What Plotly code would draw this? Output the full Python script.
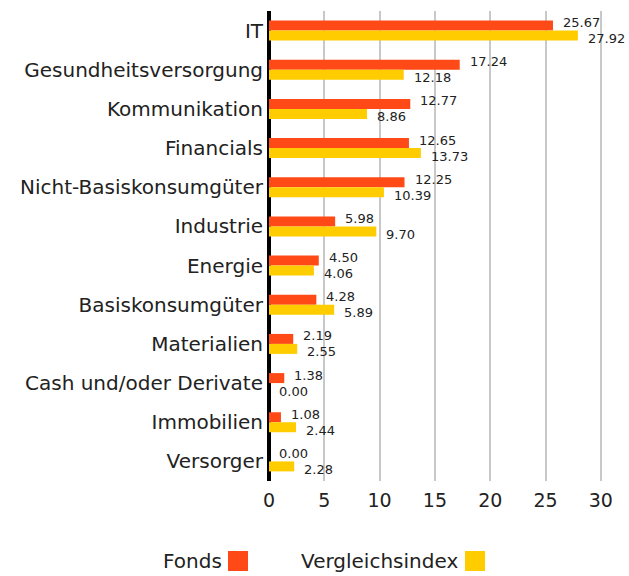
import plotly.graph_objects as go

categories = ["IT", "Gesundheitsversorgung", "Kommunikation", "Financials",
              "Nicht-Basiskonsumgüter", "Industrie", "Energie", "Basiskonsumgüter",
              "Materialien", "Cash und/oder Derivate", "Immobilien", "Versorger"]
fonds = [25.67, 17.24, 12.77, 12.65, 12.25, 5.98, 4.50, 4.28, 2.19, 1.38, 1.08, 0.00]
index_vals = [27.92, 12.18, 8.86, 13.73, 10.39, 9.70, 4.06, 5.89, 2.55, 0.00, 2.44, 2.28]
x_ticks = [0, 5, 10, 15, 20, 25, 30]
series_names = ["Fonds", "Vergleichsindex"]

C_FONDS = "#FF4A17"
C_INDEX = "#FFCC00"
FONT = "DejaVu Sans"
TXT = "#222222"

W, H = 629, 576
L, R, T, B = 269, 6, 11, 95
pw, ph = W - L - R, H - T - B

def px_x(p):
    return (p - L) / pw

def px_y(p):
    return 1 - (p - T) / ph

pos = list(range(len(categories)))
bargap = 0.49
half = (1 - bargap) / 4

fig = go.Figure()
fig.add_bar(y=pos, x=fonds, orientation="h", name=series_names[0],
            marker=dict(color=C_FONDS, line=dict(width=0)), showlegend=False)
fig.add_bar(y=pos, x=index_vals, orientation="h", name=series_names[1],
            marker=dict(color=C_INDEX, line=dict(width=0)), showlegend=False)

ann = []
for i, (a, b) in enumerate(zip(fonds, index_vals)):
    ann.append(dict(x=a, y=i - half, xref="x", yref="y", text=f"{a:.2f}",
                    showarrow=False, xanchor="left", yanchor="middle",
                    xshift=8, yshift=3, font=dict(family=FONT, size=13, color=TXT)))
    ann.append(dict(x=b, y=i + half, xref="x", yref="y", text=f"{b:.2f}",
                    showarrow=False, xanchor="left", yanchor="middle",
                    xshift=8, yshift=-3, font=dict(family=FONT, size=13, color=TXT)))

# custom legend: text then square
legend_items = [(series_names[0], C_FONDS, 224, 228), (series_names[1], C_INDEX, 460, 465)]
shapes = []
for name, col, text_right, sq_left in legend_items:
    ann.append(dict(x=px_x(text_right), y=px_y(561), xref="paper", yref="paper",
                    text=name, showarrow=False, xanchor="right", yanchor="middle",
                    font=dict(family=FONT, size=20, color=TXT)))
    shapes.append(dict(type="rect", xref="paper", yref="paper",
                       x0=px_x(sq_left), x1=px_x(sq_left + 20),
                       y0=px_y(571), y1=px_y(551), fillcolor=col, line=dict(width=0)))

fig.update_layout(
    width=W, height=H,
    margin=dict(l=L, r=R, t=T, b=B),
    paper_bgcolor="white", plot_bgcolor="white",
    barmode="group", bargap=bargap, bargroupgap=0,
    annotations=ann, shapes=shapes,
    showlegend=False,
    font=dict(family=FONT, color=TXT),
)
fig.update_xaxes(range=[0, 32], tickvals=x_ticks, showgrid=True, gridcolor="#C8C8C8",
                 gridwidth=2, zeroline=True, zerolinecolor="black", zerolinewidth=4,
                 tickfont=dict(family=FONT, size=19, color=TXT), ticks="",
                 ticklabelstandoff=6, fixedrange=True)
fig.update_yaxes(tickvals=pos, ticktext=categories, range=[len(categories) - 0.5, -0.5],
                 showgrid=False, zeroline=False, ticks="", fixedrange=True,
                 tickfont=dict(family=FONT, size=20, color=TXT), ticklabelstandoff=5)

fig.write_html("out.html", config={"displayModeBar": False, "staticPlot": True},
               post_script="document.body.style.margin='0px';")
